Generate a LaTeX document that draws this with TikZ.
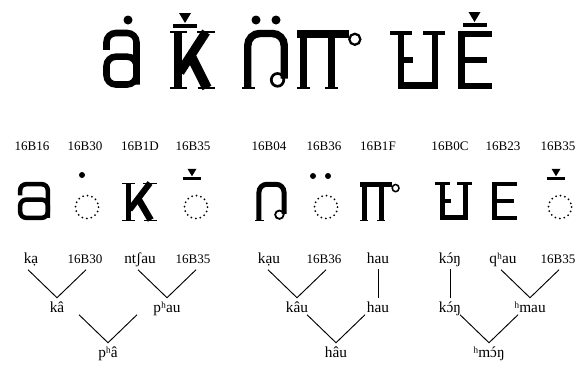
\documentclass[tikz,border=0pt]{standalone}
\usepackage{fontspec}
\setmainfont{Liberation Serif}
\usepackage{tikz}
\usetikzlibrary{calc}
\newcommand\acuteo{\ooalign{ɔ\cr\hidewidth\char"00B4\hidewidth\cr}}

\begin{document}
\begin{tikzpicture}[
  x=0.75pt, y=-0.75pt,
  code/.style={font=\fontsize{9.8}{11}\selectfont, anchor=base, inner sep=0pt},
  ipa/.style={font=\fontsize{11.5}{13}\selectfont, anchor=base, text height=9pt, text depth=3pt, inner xsep=1pt, inner ysep=1.5pt},
  branch/.style={line width=0.7pt},
  ring/.style={dash pattern=on 0pt off 3.4pt, line cap=round, line width=1.5pt},
  % --- glyph outlines, drawn in a unit box ---
  hm a/.pic={
    \draw (0,0.33) -- (0,0) -- (1,0) -- (1,1);
    \draw (0,0.46) rectangle (1,1);
  },
  hm k/.pic={
    \draw (0.18,0) -- (0.18,1);
    \draw[line width=0.45*\pgflinewidth] (0,0) -- (0.38,0) (0,1) -- (0.38,1) (0.6,0) -- (1,0) (0.62,1) -- (1,1);
    \draw[line width=1.1*\pgflinewidth] (0.22,0.72) -- (0.8,0);
    \draw[line width=1.15*\pgflinewidth] (0.46,0.42) -- (0.82,1);
  },
  hm n/.pic={
    \draw (0.12,1) -- (0.12,0.06) -- (0.88,0.06) -- (0.88,0.84);
    \draw[sharp corners, line width=0.45*\pgflinewidth] (0,1) -- (0.28,1);
    \draw[sharp corners, line width=0.6*\pgflinewidth] (0.74,0.86) ellipse[x radius=0.13, y radius=0.11];
  },
  hm p/.pic={
    \draw (0.1,1) -- (0.1,0.07);
    \draw (0.53,1) -- (0.53,0.07);
    \draw (0,0.07) -- (0.8,0.07);
    \draw[line width=0.45*\pgflinewidth] (0,1) -- (0.2,1) (0.43,1) -- (0.63,1);
    \draw[line width=0.55*\pgflinewidth] (0.89,0.16) ellipse[x radius=0.085, y radius=0.095];
  },
  hm h/.pic={
    \draw (0.2,0) -- (0.2,0.96) -- (0.82,0.96) -- (0.82,0);
    \draw (0.2,0.5) -- (0.42,0.5);
    \draw[line width=0.75*\pgflinewidth] (0,0.02) -- (0.4,0.02) (0.6,0.02) -- (1,0.02);
  },
  hm e/.pic={
    \draw (1,0) -- (0.1,0) -- (0.1,1) -- (1,1);
    \draw (0.1,0.5) -- (0.86,0.5);
  },
  hm mark/.pic={
    \fill (-12,-1.6) rectangle (12,1.6);
    \fill (-6,-13) -- (6,-13) -- (0,-3) -- cycle;
  },
]
\useasboundingbox (0,0) rectangle (577,365);

% --- Title glyphs ---
\pic[line width=4.9pt, rounded corners=7pt, xscale=30, yscale=51.5] at (106.5,33) {hm a};
\fill (128,20) circle[radius=4.5];
\pic[line width=5.6pt, xscale=45, yscale=56] at (170,32) {hm k};
\pic at (185,26) {hm mark};
\pic[line width=5.6pt, rounded corners=9pt, xscale=48, yscale=58] at (242,30) {hm n};
\fill (256,20) circle[radius=4.5];
\fill (276,20) circle[radius=4.5];
\pic[line width=5.6pt, xscale=65, yscale=58] at (297,30) {hm p};
\pic[line width=4.9pt, xscale=55, yscale=56] at (390,32) {hm h};
\pic[line width=4.9pt, xscale=34, yscale=52] at (458,34) {hm e};
\pic at (474.5,25) {hm mark};

% --- Code points ---
\node[code] (u16) at (32,150) {16B16};
\node[code] (u30) at (85,150) {16B30};
\node[code] (u1d) at (140,150) {16B1D};
\node[code] (u35) at (193,150) {16B35};
\node[code] (u04) at (269,150) {16B04};
\node[code] (u36) at (324,150) {16B36};
\node[code] (u1f) at (378,150) {16B1F};
\node[code] (u0c) at (450,150) {16B0C};
\node[code] (u23) at (503,150) {16B23};
\node[code] (u35b) at (558,150) {16B35};

% --- Single glyphs ---
\pic[line width=3.4pt, rounded corners=4.5pt, xscale=27.6, yscale=33.6] at (20.2,184.2) {hm a};
\fill (82,175) circle[radius=3];
\draw[ring] (87,207) circle[radius=11.5];
\pic[line width=3.75pt, xscale=35, yscale=37] at (122,183) {hm k};
\pic[scale=0.75] at (192,178.5) {hm mark};
\draw[ring] (196,207) circle[radius=11.5];
\pic[line width=3.75pt, rounded corners=6pt, xscale=33, yscale=38] at (255,182) {hm n};
\fill (313,176) circle[radius=3];
\fill (328,176) circle[radius=3];
\draw[ring] (326,207) circle[radius=11.5];
\pic[line width=3.75pt, xscale=40, yscale=38] at (360,182) {hm p};
\pic[line width=3.4pt, xscale=37, yscale=36] at (435,183) {hm h};
\pic[line width=3.4pt, xscale=25, yscale=34] at (492,184) {hm e};
\pic[scale=0.75] at (556,178.5) {hm mark};
\draw[ring] (560,207) circle[radius=11.5];

% --- Readings ---
\node[ipa] (ka) at (31,263) {kạ};
\node[code] (ka30) at (85,263) {16B30};
\node[ipa] (ntsau) at (140,263) {ntʃau};
\node[code] (ntsau35) at (193,263) {16B35};
\node[ipa] (kau) at (269,263) {kạu};
\node[code] (kau36) at (324,263) {16B36};
\node[ipa] (hau) at (378,263) {hau};
\node[ipa] (kong) at (450,263) {k\acuteo ŋ};
\node[ipa] (qhau) at (503,263) {qʰau};
\node[code] (qhau35) at (558,263) {16B35};

\node[ipa] (kaa) at (57,312) {kâ};
\node[ipa] (phau) at (167,312) {pʰau};
\node[ipa] (kaau) at (297,312) {kâu};
\node[ipa] (hau2) at (378,312) {hau};
\node[ipa] (kong2) at (450,312) {k\acuteo ŋ};
\node[ipa] (hmau) at (530,312) {ʰmau};

\node[ipa] (phaa) at (108,357) {pʰâ};
\node[ipa] (haau) at (336,357) {hâu};
\node[ipa] (hmong) at (489,357) {ʰm\acuteo ŋ};

% --- Branches ---
\draw[branch] ($(kaa.north)+(-29,-28)$) -- (kaa.north) -- ($(kaa.north)+(29,-28)$);
\draw[branch] ($(phau.north)+(-29,-28)$) -- (phau.north) -- ($(phau.north)+(29,-28)$);
\draw[branch] ($(phaa.north)+(-29,-28)$) -- (phaa.north) -- ($(phaa.north)+(29,-28)$);
\draw[branch] ($(kaau.north)+(-29,-28)$) -- (kaau.north) -- ($(kaau.north)+(29,-28)$);
\draw[branch] (hau.south) -- (hau2.north);
\draw[branch] ($(haau.north)+(-29,-28)$) -- (haau.north) -- ($(haau.north)+(29,-28)$);
\draw[branch] (kong.south) -- (kong2.north);
\draw[branch] ($(hmau.north)+(-29,-28)$) -- (hmau.north) -- ($(hmau.north)+(29,-28)$);
\draw[branch] ($(hmong.north)+(-29,-28)$) -- (hmong.north) -- ($(hmong.north)+(29,-28)$);

\end{tikzpicture}
\end{document}
